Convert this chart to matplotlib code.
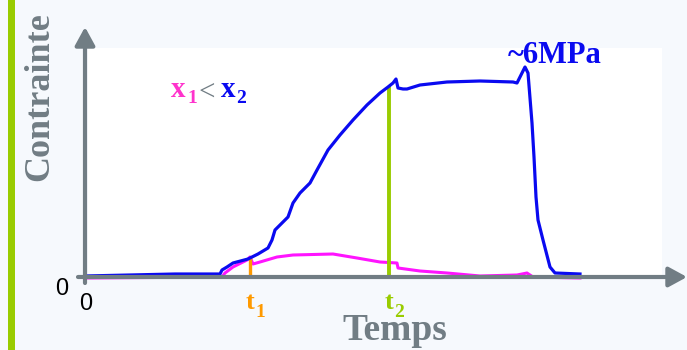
import numpy as np
import matplotlib
matplotlib.use('agg')
import matplotlib.pyplot as plt
from matplotlib.patches import Rectangle

##### Data (time in arbitrary units, stress in arbitrary units)
blue_t = [0, 90, 135, 137, 142, 148, 163, 173, 183, 187, 190, 197, 203, 208, 215, 225,
          232, 243, 255, 268, 282, 295, 303, 308, 311, 313, 318, 322, 335, 362, 395,
          428, 432, 437, 440, 443, 447, 449, 451, 453, 458, 465, 470, 495]
blue_s = [1, 3, 3, 7, 10, 14, 18, 23, 29, 37, 47, 54, 60, 74, 84, 94,
          107, 127, 142, 157, 172, 184, 190, 194, 198, 189, 188, 188, 192, 195, 196,
          195, 194, 204, 210, 204, 154, 120, 80, 57, 37, 10, 4, 3]
pink_t = [0, 137, 140, 148, 162, 165, 168, 175, 192, 208, 248, 272, 295, 312, 313,
          335, 362, 395, 432, 442, 448, 495]
pink_s = [-1, 0, 4, 10, 17, 20, 13, 15, 20, 22, 23, 19, 15, 14, 9,
          6, 4, 1, 2, 4, 0, -1]
mark_t = [165, 304]
mark_s = [20, 191]
mark_names = ['1', '2']

##### Style
W, H = 687, 350
bg = '#f6f9fd'
gray = '#717d84'
blue = '#0a0af0'
pink = '#ff14ff'
orange = '#ff9a00'
green = '#99cc00'
serif = 'Liberation Serif'

fig = plt.figure(figsize=(W/100., H/100.), dpi=100, facecolor=bg)

def fx(x, y):
    return x/float(W), 1 - y/float(H)

# white plotting area and green side bar
fig.patches.append(Rectangle(fx(88, 275), (662-88)/float(W), (275-48)/float(H),
                             transform=fig.transFigure, facecolor='white', edgecolor='none', zorder=-2))
fig.patches.append(Rectangle(fx(8, 350), 7/float(W), 1, transform=fig.transFigure,
                             facecolor=green, edgecolor='none', zorder=-2))

ax = fig.add_axes([85/float(W), (H-277)/float(H), (W-85)/float(W), 250/float(H)])
ax.set_xlim(0, W-85)
ax.set_ylim(0, 250)
ax.axis('off')
ax.patch.set_alpha(0)

ax.plot(pink_t, pink_s, color=pink, lw=2.2, zorder=2, clip_on=False, solid_joinstyle='round')
ax.vlines(mark_t[0], 0, mark_s[0], color=orange, lw=2.4, zorder=3)
ax.vlines(mark_t[1], 0, mark_s[1], color=green, lw=2.8, zorder=3)
ax.plot(blue_t, blue_s, color=blue, lw=2.3, zorder=4, clip_on=False, solid_joinstyle='round')

# axes arrows
arr = dict(arrowstyle='-|>,head_length=0.55,head_width=0.3', color=gray, lw=3,
           mutation_scale=20, shrinkA=0, shrinkB=0)
ax.annotate('', xy=(0, 250), xytext=(0, -6), arrowprops=arr, zorder=5, annotation_clip=False)
ax.annotate('', xy=(W-85, 0), xytext=(-7, 0), arrowprops=arr, zorder=5, annotation_clip=False)

# texts
def txt(x, y, s, **kw):
    fig.text(*fx(x, y), s, **kw)

txt(40, 97, 'Contrainte', rotation=90, ha='center', va='center', family=serif,
    weight='bold', fontsize=26, color=gray)
txt(395, 340, 'Temps', ha='center', va='baseline', family=serif, weight='bold',
    fontsize=27, color=gray)
txt(62, 289, '0', ha='center', va='center', family='Liberation Sans', fontsize=17, color='black')
txt(86, 304, '0', ha='center', va='center', family='Liberation Sans', fontsize=17, color='black')

# t1, t2
for tt, c, lab in zip(mark_t, [orange, green], mark_names):
    x0 = tt + 85 - 4
    txt(x0, 309, 't', ha='left', va='baseline', family=serif, weight='bold', fontsize=19, color=c)
    txt(x0 + 9, 317, lab, ha='left', va='baseline', family=serif, weight='bold', fontsize=14, color=c)

# x1 < x2
txt(171, 97, 'x', ha='left', va='baseline', family=serif, weight='bold', fontsize=21, color='#ff33cc')
txt(187, 103, '1', ha='left', va='baseline', family=serif, weight='bold', fontsize=14, color='#ff33cc')
txt(199, 100, '<', ha='left', va='baseline', family=serif, fontsize=21, color=gray)
txt(221, 97, 'x', ha='left', va='baseline', family=serif, weight='bold', fontsize=21, color=blue)
txt(236, 103, '2', ha='left', va='baseline', family=serif, weight='bold', fontsize=14, color=blue)

txt(508, 63, '~6MPa', ha='left', va='baseline', family=serif, weight='bold', fontsize=22, color=blue)

plt.savefig('out.png', dpi=100, facecolor=bg)
